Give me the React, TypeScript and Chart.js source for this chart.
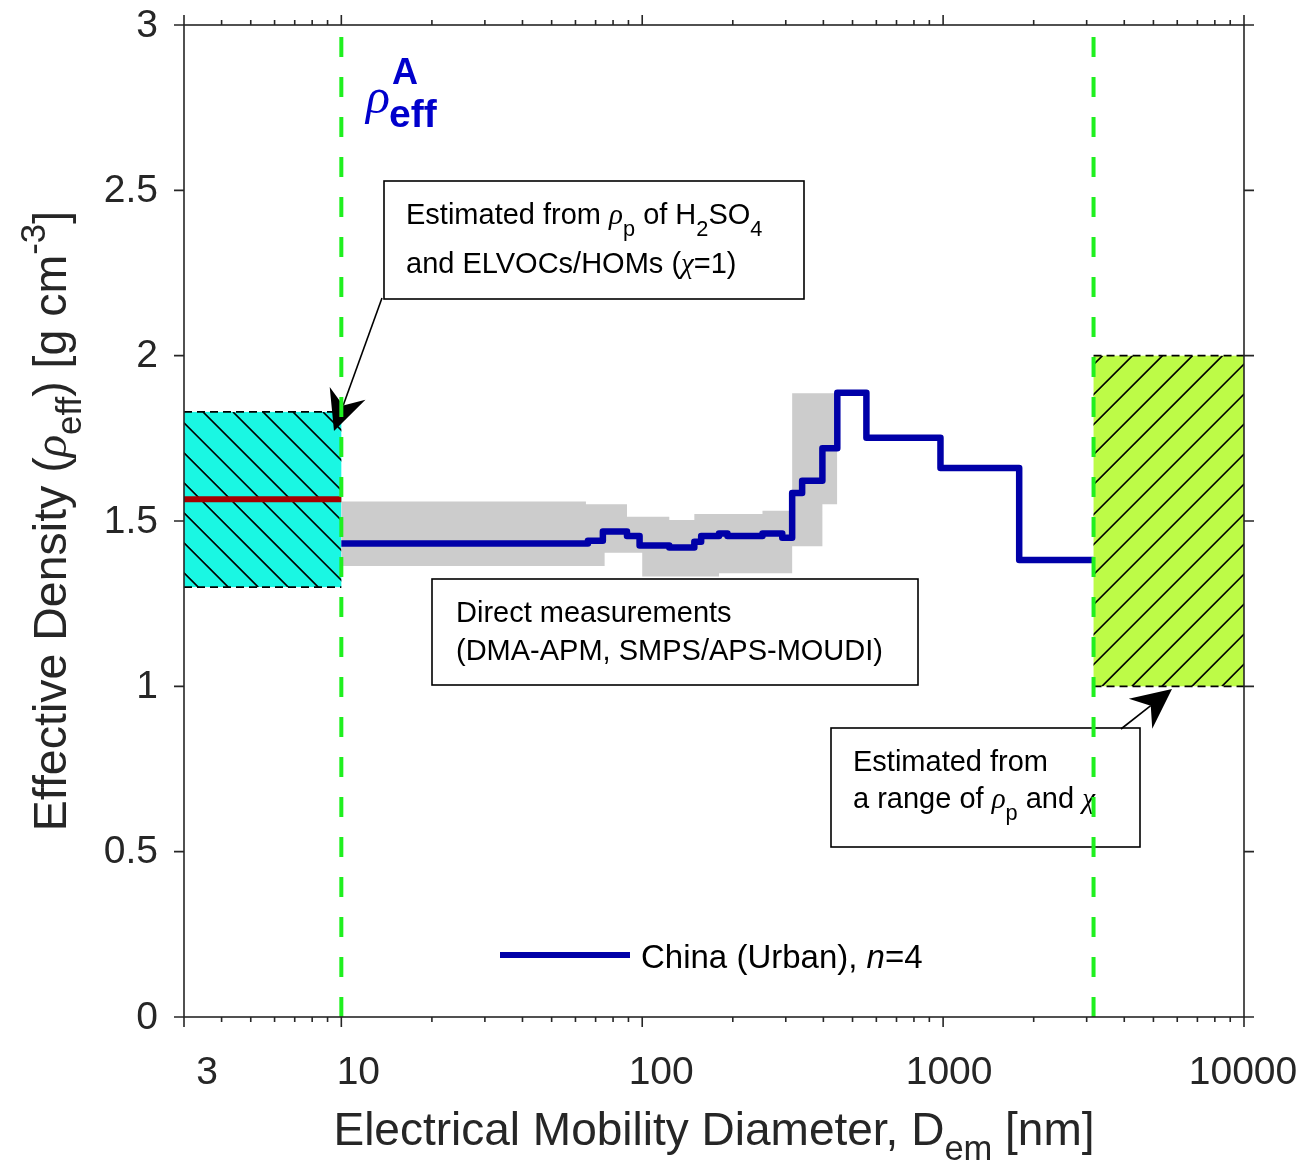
import React, { useEffect, useRef } from 'react';
import { Chart, registerables } from 'chart.js';

Chart.register(...registerables);

// ---------- data ----------
const stepEdges = [10, 66, 74, 89, 98, 123, 149, 157, 180, 192, 251, 292, 315, 340, 397, 445, 556, 980, 1790, 3162];
const stepValues = [1.432, 1.440, 1.468, 1.455, 1.426, 1.420, 1.437, 1.455, 1.462, 1.455, 1.462, 1.449, 1.585, 1.622, 1.720, 1.888, 1.752, 1.660, 1.382, 1.382];

const bandEdges = [10, 65, 75, 89, 100, 123, 149, 180, 251, 315, 397, 445];
const bandUpper = [1.559, 1.551, 1.551, 1.513, 1.513, 1.503, 1.521, 1.521, 1.531, 1.886, 1.886, 1.886];
const bandLower = [1.364, 1.364, 1.404, 1.404, 1.332, 1.332, 1.332, 1.342, 1.342, 1.424, 1.551, 1.551];

const nucleationX = [3, 10];
const nucleationY = [1.30, 1.83];
const nucleationMid = 1.566;

const coarseX = [3162, 10000];
const coarseY = [1.0, 2.0];

const boundaryX = [10, 3162];

const xTickMajor = [3, 10, 100, 1000, 10000];
const xTickLabels = ['3', '10', '100', '1000', '10000'];
const xTickMinor = [4, 5, 6, 7, 8, 9, 20, 30, 40, 50, 60, 70, 80, 90, 200, 300, 400, 500, 600, 700, 800, 900, 2000, 3000, 4000, 5000, 6000, 7000, 8000, 9000];
const yTicks = [0, 0.5, 1, 1.5, 2, 2.5, 3];
const yTickLabels = ['0', '0.5', '1', '1.5', '2', '2.5', '3'];

const seriesLabel = 'China (Urban), ';

// ---------- styles ----------
const SANS = '"Liberation Sans", Arial, Helvetica, sans-serif';
const SERIF = '"Liberation Serif", "DejaVu Serif", serif';
const BLUE = '#0000a8';
const AXIS = '#262626';

type Part = { t: string; it?: boolean; i?: boolean; b?: boolean; sub?: boolean; sup?: boolean; color?: string };

function fontFor(p: Part, size: number) {
  const sz = p.sub || p.sup ? size * 0.75 : size;
  const fam = p.it ? SERIF : SANS;
  const style = p.it || p.i ? 'italic ' : '';
  const weight = p.b ? 'bold ' : '';
  return `${style}${weight}${sz}px ${fam}`;
}

function drawRich(ctx: CanvasRenderingContext2D, parts: Part[], x: number, y: number, size: number, align: 'left' | 'center' = 'left', color = '#000', subDrop = 0.33) {
  ctx.save();
  ctx.textBaseline = 'alphabetic';
  ctx.textAlign = 'left';
  let total = 0;
  const widths = parts.map((p) => {
    ctx.font = fontFor(p, size);
    const w = ctx.measureText(p.t).width;
    total += w;
    return w;
  });
  let cx = align === 'center' ? x - total / 2 : x;
  parts.forEach((p, i) => {
    ctx.font = fontFor(p, size);
    ctx.fillStyle = p.color || color;
    const dy = p.sub ? size * subDrop : p.sup ? -size * 0.45 : 0;
    ctx.fillText(p.t, cx, y + dy);
    cx += widths[i];
  });
  ctx.restore();
}

function hatch(ctx: CanvasRenderingContext2D, x0: number, y0: number, x1: number, y1: number, dir: 1 | -1, spacing: number, phase: number) {
  ctx.save();
  ctx.beginPath();
  ctx.rect(x0, y0, x1 - x0, y1 - y0);
  ctx.clip();
  ctx.strokeStyle = '#000';
  ctx.lineWidth = 1.6;
  const h = y1 - y0;
  ctx.beginPath();
  for (let c = x0 + phase - Math.ceil((h + (x1 - x0)) / spacing + 2) * spacing; c < x1 + h + spacing; c += spacing) {
    ctx.moveTo(c, y0);
    ctx.lineTo(c + dir * h, y1);
  }
  ctx.stroke();
  ctx.restore();
}

function dashedH(ctx: CanvasRenderingContext2D, x0: number, x1: number, y: number) {
  ctx.save();
  ctx.strokeStyle = '#000';
  ctx.lineWidth = 1.8;
  ctx.setLineDash([8, 5]);
  ctx.beginPath();
  ctx.moveTo(x0, y);
  ctx.lineTo(x1, y);
  ctx.stroke();
  ctx.restore();
}

function arrow(ctx: CanvasRenderingContext2D, tx: number, ty: number, hx: number, hy: number) {
  const dx = hx - tx;
  const dy = hy - ty;
  const L = Math.hypot(dx, dy);
  const ux = dx / L;
  const uy = dy / L;
  const nx = -uy;
  const ny = ux;
  const headLen = 40;
  const halfW = 19;
  const notch = 13;
  ctx.save();
  ctx.strokeStyle = '#000';
  ctx.fillStyle = '#000';
  ctx.lineWidth = 1.6;
  ctx.beginPath();
  ctx.moveTo(tx, ty);
  ctx.lineTo(hx - ux * (headLen - notch), hy - uy * (headLen - notch));
  ctx.stroke();
  ctx.beginPath();
  ctx.moveTo(hx, hy);
  ctx.lineTo(hx - ux * headLen + nx * halfW, hy - uy * headLen + ny * halfW);
  ctx.lineTo(hx - ux * (headLen - notch), hy - uy * (headLen - notch));
  ctx.lineTo(hx - ux * headLen - nx * halfW, hy - uy * headLen - ny * halfW);
  ctx.closePath();
  ctx.fill();
  ctx.restore();
}

function textBox(ctx: CanvasRenderingContext2D, x0: number, y0: number, x1: number, y1: number) {
  ctx.save();
  ctx.fillStyle = '#fff';
  ctx.fillRect(x0, y0, x1 - x0, y1 - y0);
  ctx.strokeStyle = '#000';
  ctx.lineWidth = 1.6;
  ctx.strokeRect(x0, y0, x1 - x0, y1 - y0);
  ctx.restore();
}

const decorPlugin = {
  id: 'decor',
  beforeDatasetsDraw(chart: any) {
    const ctx: CanvasRenderingContext2D = chart.ctx;
    const xs = chart.scales.x;
    const ys = chart.scales.y;
    // nucleation-mode box
    const ax0 = xs.getPixelForValue(nucleationX[0]);
    const ax1 = xs.getPixelForValue(nucleationX[1]);
    const ay0 = ys.getPixelForValue(nucleationY[1]);
    const ay1 = ys.getPixelForValue(nucleationY[0]);
    ctx.save();
    ctx.fillStyle = '#1af7e3';
    ctx.fillRect(ax0, ay0, ax1 - ax0, ay1 - ay0);
    ctx.restore();
    hatch(ctx, ax0, ay0, ax1, ay1, 1, 30, 19);
    dashedH(ctx, ax0, ax1, ay0);
    dashedH(ctx, ax0, ax1, ay1);
    // coarse-mode box
    const bx0 = xs.getPixelForValue(coarseX[0]);
    const bx1 = xs.getPixelForValue(coarseX[1]);
    const by0 = ys.getPixelForValue(coarseY[1]);
    const by1 = ys.getPixelForValue(coarseY[0]);
    ctx.save();
    ctx.fillStyle = '#bdfb47';
    ctx.fillRect(bx0, by0, bx1 - bx0, by1 - by0);
    ctx.restore();
    hatch(ctx, bx0, by0, bx1, by1, -1, 30, 9);
    dashedH(ctx, bx0, bx1, by0);
    dashedH(ctx, bx0, bx1, by1);
  },
  afterDatasetsDraw(chart: any) {
    const ctx: CanvasRenderingContext2D = chart.ctx;
    const xs = chart.scales.x;
    const ys = chart.scales.y;
    const a = chart.chartArea;
    const L = a.left, R = a.right, T = a.top, B = a.bottom;

    // text boxes
    textBox(ctx, 384, 181, 804, 299);
    drawRich(ctx, [
      { t: 'Estimated from ' }, { t: 'ρ', it: true }, { t: 'p', sub: true }, { t: ' of H' }, { t: '2', sub: true }, { t: 'SO' }, { t: '4', sub: true },
    ], 406, 224, 29, 'left', '#000', 0.4);
    drawRich(ctx, [{ t: 'and ELVOCs/HOMs (' }, { t: 'χ', it: true }, { t: '=1)' }], 406, 273, 29);

    textBox(ctx, 432, 579, 918, 685);
    drawRich(ctx, [{ t: 'Direct measurements' }], 456, 622, 29);
    drawRich(ctx, [{ t: '(DMA-APM, SMPS/APS-MOUDI)' }], 456, 660, 29);

    textBox(ctx, 831, 728, 1140, 847);
    drawRich(ctx, [{ t: 'Estimated from' }], 853, 771, 29);
    drawRich(ctx, [{ t: 'a range of ' }, { t: 'ρ', it: true }, { t: 'p', sub: true }, { t: ' and ' }, { t: 'χ', it: true }], 853, 808, 29, 'left', '#000', 0.4);

    // arrows
    arrow(ctx, 382, 298, 334, 431);
    arrow(ctx, 1121, 729, 1172, 689);

    // boundary dashed lines
    ctx.save();
    ctx.strokeStyle = '#1ff01f';
    ctx.lineWidth = 4;
    ctx.setLineDash([20, 20]);
    boundaryX.forEach((v) => {
      const px = xs.getPixelForValue(v);
      ctx.beginPath();
      ctx.moveTo(px, B);
      ctx.lineTo(px, T);
      ctx.stroke();
    });
    ctx.restore();

    // frame
    ctx.save();
    ctx.strokeStyle = AXIS;
    ctx.lineWidth = 1.6;
    ctx.strokeRect(L, T, R - L, B - T);
    ctx.beginPath();
    xTickMajor.forEach((v) => {
      const px = xs.getPixelForValue(v);
      ctx.moveTo(px, B); ctx.lineTo(px, B + 10);
      ctx.moveTo(px, T); ctx.lineTo(px, T - 10);
    });
    xTickMinor.forEach((v) => {
      const px = xs.getPixelForValue(v);
      ctx.moveTo(px, B); ctx.lineTo(px, B + 5);
      ctx.moveTo(px, T); ctx.lineTo(px, T - 5);
    });
    yTicks.forEach((v) => {
      const py = ys.getPixelForValue(v);
      ctx.moveTo(L, py); ctx.lineTo(L - 10, py);
      ctx.moveTo(R, py); ctx.lineTo(R + 10, py);
    });
    ctx.stroke();
    ctx.restore();

    // tick labels
    ctx.save();
    ctx.fillStyle = AXIS;
    ctx.font = `39px ${SANS}`;
    ctx.textAlign = 'center';
    ctx.textBaseline = 'alphabetic';
    const xOff = [23, 17, 19, 6, -1];
    xTickMajor.forEach((v, i) => {
      ctx.fillText(xTickLabels[i], xs.getPixelForValue(v) + xOff[i], B + 67);
    });
    ctx.textAlign = 'right';
    ctx.textBaseline = 'middle';
    yTicks.forEach((v, i) => {
      ctx.fillText(yTickLabels[i], L - 26, ys.getPixelForValue(v) + 1);
    });
    ctx.restore();

    // axis titles
    drawRich(ctx, [{ t: 'Electrical Mobility Diameter, D' }, { t: 'em', sub: true }, { t: ' [nm]' }], (L + R) / 2, B + 128, 46, 'center', AXIS);
    ctx.save();
    ctx.translate(66, (T + B) / 2);
    ctx.rotate(-Math.PI / 2);
    drawRich(ctx, [
      { t: 'Effective Density (' }, { t: 'ρ', it: true }, { t: 'eff', sub: true }, { t: ') [g cm' }, { t: '-3', sup: true }, { t: ']' },
    ], 0, 0, 46.5, 'center', AXIS);
    ctx.restore();

    // legend
    ctx.save();
    ctx.strokeStyle = BLUE;
    ctx.lineWidth = 6;
    ctx.beginPath();
    ctx.moveTo(500, 955);
    ctx.lineTo(630, 955);
    ctx.stroke();
    ctx.restore();
    drawRich(ctx, [{ t: seriesLabel }, { t: 'n', i: true }, { t: '=4' }], 641, 968, 33);

    // rho_eff^A label
    drawRich(ctx, [{ t: 'ρ', it: true, color: '#0000cc' }], 366, 113, 50);
    drawRich(ctx, [{ t: 'A', b: true, color: '#0000cc' }], 392, 84, 36);
    drawRich(ctx, [{ t: 'eff', b: true, color: '#0000cc' }], 389, 127, 39);
  },
};

export default function App() {
  const ref = useRef<HTMLCanvasElement | null>(null);
  useEffect(() => {
    if (!ref.current) return;
    const chart = new Chart(ref.current, {
      type: 'line',
      data: {
        datasets: [
          {
            label: 'China (Urban), n=4',
            data: stepEdges.map((x, i) => ({ x, y: stepValues[i] })),
            stepped: true,
            borderColor: BLUE,
            borderWidth: 6.5,
            borderJoinStyle: 'round',
            pointRadius: 0,
            fill: false,
          },
          {
            label: 'nucleation mean',
            data: nucleationX.map((x) => ({ x, y: nucleationMid })),
            borderColor: '#a50000',
            borderWidth: 6,
            pointRadius: 0,
            fill: false,
          },
          {
            label: 'band upper',
            data: bandEdges.map((x, i) => ({ x, y: bandUpper[i] })),
            stepped: true,
            borderWidth: 0,
            borderColor: 'rgba(0,0,0,0)',
            backgroundColor: '#cccccc',
            pointRadius: 0,
            fill: '+1',
          },
          {
            label: 'band lower',
            data: bandEdges.map((x, i) => ({ x, y: bandLower[i] })),
            stepped: true,
            borderWidth: 0,
            borderColor: 'rgba(0,0,0,0)',
            pointRadius: 0,
            fill: false,
          },
        ],
      },
      options: {
        responsive: false,
        animation: false,
        events: [],
        layout: { padding: { left: 184, right: 59, top: 25, bottom: 151 } },
        scales: {
          x: { type: 'logarithmic', min: 3, max: 10000, display: false },
          y: { type: 'linear', min: 0, max: 3, display: false },
        },
        plugins: { legend: { display: false }, tooltip: { enabled: false } },
      },
      plugins: [decorPlugin],
    } as any);
    return () => chart.destroy();
  }, []);
  return (
    <div style={{ position: 'absolute', left: 0, top: 0, width: 1303, height: 1168, background: '#fff' }}>
      <canvas ref={ref} width={1303} height={1168} style={{ display: 'block', width: 1303, height: 1168 }} />
    </div>
  );
}
